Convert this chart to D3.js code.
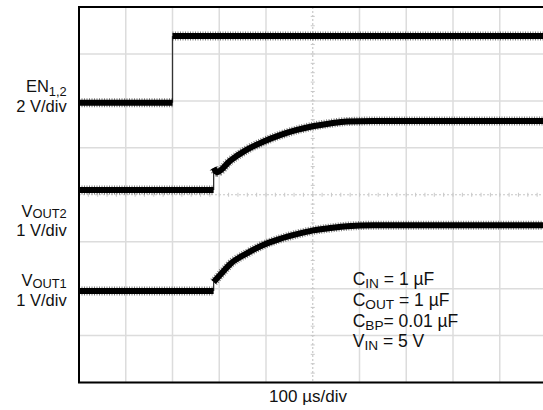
<!DOCTYPE html>
<html>
<head>
<meta charset="utf-8">
<script src="https://cdn.jsdelivr.net/npm/d3@7"></script>
<style>
  html, body { margin: 0; padding: 0; background: #fff; }
  svg { display: block; font-family: "Liberation Sans", Arial, Helvetica, sans-serif; }
</style>
</head>
<body>
<svg id="chart" width="543" height="410"></svg>
<script>
// ---- Data (time in µs, amplitude in volts) ----
const enTime    = [0, 200, 200, 1000];
const enVolts   = [0, 0, 2.84, 2.84];

const vout2Time  = [0, 288, 288, 295, 323, 359, 394, 430, 466, 500, 537, 573, 629, 1000];
const vout2Volts = [0, 0, 0.47, 0.38, 0.62, 0.86, 1.03, 1.17, 1.28, 1.36, 1.42, 1.46, 1.47, 1.47];

const vout1Time  = [0, 288, 288, 309, 323, 359, 394, 430, 466, 501, 537, 573, 629, 1000];
const vout1Volts = [0, 0, 0.19, 0.42, 0.57, 0.80, 0.98, 1.11, 1.21, 1.29, 1.34, 1.38, 1.40, 1.40];

// channel settings: volts per division and ground reference (in divisions from bottom)
const enVoltsPerDiv = 2,    enGroundDiv = 5.96;
const vout2VoltsPerDiv = 1, vout2GroundDiv = 4.10;
const vout1VoltsPerDiv = 1, vout1GroundDiv = 1.95;

const timeDivisions = [0,1,2,3,4,5,6,7,8,9,10];
const ampDivisions  = [0,1,2,3,4,5,6,7,8];
const timeLabel = "100 µs/div";

// ---- Layout ----
const svg = d3.select("#chart");
const plotLeft = 79, plotRight = 546.5, plotTop = 7, plotBottom = 382.5;
const x = d3.scaleLinear().domain([0, 1000]).range([plotLeft, plotRight]);
const xDiv = d3.scaleLinear().domain([0, 10]).range([plotLeft, plotRight]);
const yDiv = d3.scaleLinear().domain([0, 8]).range([plotBottom, plotTop]);

// grid
const grid = svg.append("g");
grid.selectAll("line.v").data(timeDivisions.filter(d => d !== 5)).join("line")
  .attr("x1", d => xDiv(d)).attr("x2", d => xDiv(d))
  .attr("y1", plotTop).attr("y2", plotBottom)
  .attr("stroke", "#dcdcdc").attr("stroke-width", 1.5);
grid.selectAll("line.h").data(ampDivisions.filter(d => d !== 4)).join("line")
  .attr("y1", d => yDiv(d)).attr("y2", d => yDiv(d))
  .attr("x1", plotLeft).attr("x2", plotRight)
  .attr("stroke", "#dcdcdc").attr("stroke-width", 1.5);
// center axes (dotted with minor ticks)
grid.append("line").attr("x1", xDiv(5)).attr("x2", xDiv(5)).attr("y1", plotTop).attr("y2", plotBottom)
  .attr("stroke", "#c8c8c8").attr("stroke-width", 1.2).attr("stroke-dasharray", "2,2");
grid.append("line").attr("y1", yDiv(4)).attr("y2", yDiv(4)).attr("x1", plotLeft).attr("x2", plotRight)
  .attr("stroke", "#c8c8c8").attr("stroke-width", 1.2).attr("stroke-dasharray", "2,2");
const minorV = d3.range(0, 8.001, 0.2);
grid.selectAll("line.mv").data(minorV).join("line")
  .attr("x1", xDiv(5) - 2).attr("x2", xDiv(5) + 2)
  .attr("y1", d => yDiv(d)).attr("y2", d => yDiv(d))
  .attr("stroke", "#c8c8c8").attr("stroke-width", 1);
const minorH = d3.range(0, 10.001, 0.2);
grid.selectAll("line.mh").data(minorH).join("line")
  .attr("y1", yDiv(4) - 2).attr("y2", yDiv(4) + 2)
  .attr("x1", d => xDiv(d)).attr("x2", d => xDiv(d))
  .attr("stroke", "#c8c8c8").attr("stroke-width", 1);

// traces
function drawTrace(times, volts, vpd, gnd) {
  const pts = times.map((t, i) => [x(t), yDiv(gnd + volts[i] / vpd)]);
  const line = d3.line().curve(d3.curveMonotoneX);
  const g = svg.append("g");
  let run = [pts[0]];
  const runs = [];
  for (let i = 1; i < pts.length; i++) {
    if (times[i] === times[i - 1]) {
      runs.push(run);
      g.append("path").attr("d", d3.line()([pts[i - 1], pts[i]]))
        .attr("fill", "none").attr("stroke", "#333").attr("stroke-width", 1.3);
      run = [pts[i]];
    } else {
      run.push(pts[i]);
    }
  }
  runs.push(run);
  runs.forEach(r => {
    g.append("path").attr("d", line(r)).attr("fill", "none")
      .attr("stroke", "#000").attr("stroke-width", 9).attr("stroke-opacity", 0.5)
      .attr("stroke-dasharray", "1,1.5");
    g.append("path").attr("d", line(r)).attr("fill", "none")
      .attr("stroke", "#000").attr("stroke-width", 6).attr("stroke-linejoin", "round");
  });
}
drawTrace(enTime, enVolts, enVoltsPerDiv, enGroundDiv);
drawTrace(vout2Time, vout2Volts, vout2VoltsPerDiv, vout2GroundDiv);
drawTrace(vout1Time, vout1Volts, vout1VoltsPerDiv, vout1GroundDiv);

// border
svg.append("rect").attr("x", plotLeft).attr("y", plotTop)
  .attr("width", plotRight - plotLeft).attr("height", plotBottom - plotTop)
  .attr("fill", "none").attr("stroke", "#000").attr("stroke-width", 2);

// text helpers
function label(xPos, yPos, parts, anchor, size) {
  const t = svg.append("text").attr("x", xPos).attr("y", yPos)
    .attr("text-anchor", anchor).attr("font-size", size).attr("fill", "#111");
  parts.forEach(p => {
    const ts = t.append("tspan").text(p.text);
    if (p.sub) ts.attr("font-size", size * 0.78).attr("dy", p.dy);
    else if (p.dy) ts.attr("dy", p.dy);
  });
}
// channel labels
label(66.7, 92, [{text: "EN"}, {text: "1,2", sub: true, dy: 3.5}], "end", 16.5);
label(66.7, 112, [{text: "2 V/div"}], "end", 16.5);
label(66.7, 216.5, [{text: "V"}, {text: "OUT2", sub: true, dy: 1.5}], "end", 16.5);
label(66.7, 236, [{text: "1 V/div"}], "end", 16.5);
label(66.7, 286, [{text: "V"}, {text: "OUT1", sub: true, dy: 1.5}], "end", 16.5);
label(66.7, 305.5, [{text: "1 V/div"}], "end", 16.5);

// conditions
label(352.7, 285, [{text: "C"}, {text: "IN", sub: true, dy: 3}, {text: " = 1 µF", dy: -3}], "start", 17.5);
label(352.7, 305.7, [{text: "C"}, {text: "OUT", sub: true, dy: 3}, {text: " = 1 µF", dy: -3}], "start", 17.5);
label(352.7, 326.5, [{text: "C"}, {text: "BP", sub: true, dy: 3}, {text: "= 0.01 µF", dy: -3}], "start", 17.5);
label(352.7, 347.3, [{text: "V"}, {text: "IN", sub: true, dy: 3}, {text: " = 5 V", dy: -3}], "start", 17.5);

// x label
svg.append("text").attr("x", 308).attr("y", 401.5).attr("text-anchor", "middle")
  .attr("font-size", 17).attr("fill", "#111").text(timeLabel);
</script>
</body>
</html>
